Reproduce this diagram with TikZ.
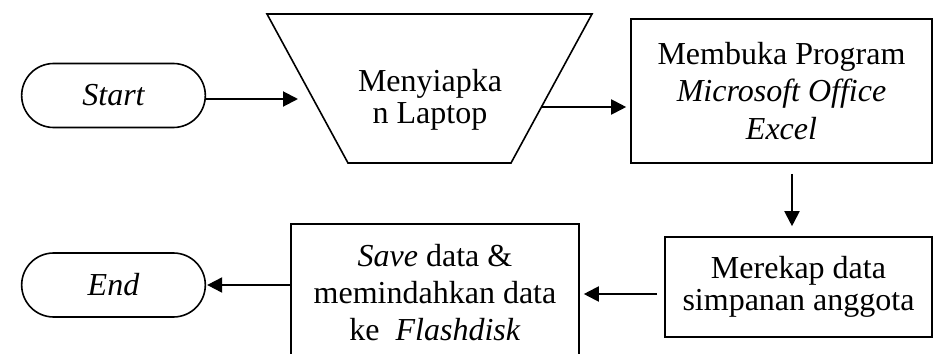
\documentclass[tikz,border=0pt]{standalone}
\usepackage{fontspec}
\setmainfont{Liberation Serif}
\usetikzlibrary{shapes.misc,arrows.meta}

\begin{document}
\begin{tikzpicture}[x=0.5pt,y=-0.5pt,font=\fontsize{16}{18.5}\selectfont]
\tikzstyle{terminal}=[draw,rounded rectangle,line width=0.8pt,minimum width=98.5pt,minimum height=32pt,font=\fontsize{16}{18.5}\selectfont\itshape]
\tikzstyle{process}=[draw,rectangle,line width=0.8pt,align=center,inner sep=0pt]
\tikzstyle{arrow}=[-{Triangle[length=7.5pt,width=7.5pt]},line width=1pt]
\useasboundingbox (0,0) rectangle (934,354);
\clip (0,0) rectangle (934,354);

\node [terminal] (start) at (113.5,95.5) {Start};
% preparation shape
\draw[line width=0.8pt] (267,14) coordinate (tl) -- (592,14) coordinate (tr) -- (511,163) coordinate (br) -- (348,163) coordinate (bl) -- cycle;
\node [align=center,font=\fontsize{16}{16}\selectfont] (laptop) at (430,100) {Menyiapka\\n Laptop};
\node [process,minimum width=150.5pt,minimum height=72pt,font=\fontsize{16}{18.75}\selectfont] (excel) at (781.5,91) {Membuka Program\\\textit{Microsoft Office}\\\textit{Excel}};
\node [process,minimum width=133.5pt,minimum height=50pt,font=\fontsize{16}{16}\selectfont] (rekap) at (798.5,287) {Merekap data\\simpanan anggota};
\node [process,minimum width=144pt,minimum height=69pt] (save) at (435,293) {\textit{Save} data \&\\memindahkan data\\ke~ \textit{Flashdisk}};
\node [terminal] (end) at (113.5,285) {End};

% arrow ends
\coordinate (p1) at (298,99);
\coordinate (p2) at (542,107);
\coordinate (p3) at (792,200);
\coordinate (p4) at (620,294);

\draw[arrow] (start.east |- p1) -- (p1);
\draw[arrow,shorten >=2pt] (p2) -- (excel.west |- p2);
\draw[arrow,shorten <=5pt,shorten >=5pt] (excel.south -| p3) -- (rekap.north -| p3);
\draw[arrow,shorten <=3.5pt,shorten >=2pt] (rekap.west |- p4) -- (save.east |- p4);
\draw[arrow,shorten >=0.5pt] (save.west |- end.east) -- (end.east);
\end{tikzpicture}
\end{document}
